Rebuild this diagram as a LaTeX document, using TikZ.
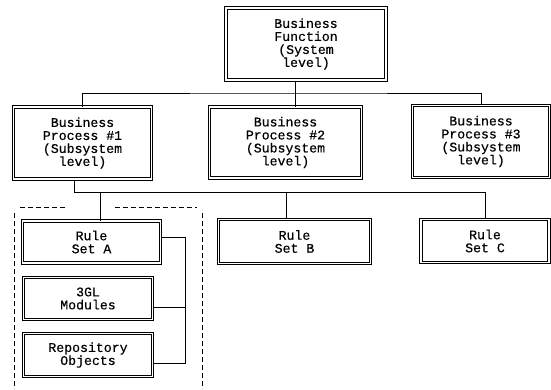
\documentclass[tikz,border=0pt]{standalone}
\usepackage{fontspec}
\setmonofont{Liberation Mono}[FakeBold=0.4]
\usetikzlibrary{positioning}
\tikzset{block/.style={draw, double, double distance=1.5pt, line width=1pt, align=center, inner sep=1pt,
                       font=\ttfamily\fontsize{13.2}{13}\selectfont},
         link/.style={line width=0.8pt},
         group/.style={line width=0.8pt, dash pattern=on 5pt off 3pt},
        }

\begin{document}
\begin{tikzpicture}[x=1pt,y=-1pt]
        \useasboundingbox (0,0) rectangle (551,389);
        \node[block, minimum width=160, minimum height=72](bf)at(306,44){Business\\Function\\(System\\level)};
        \node[block, minimum width=138, minimum height=72](bp1)at(82.5,143){Business\\Process \#1\\(Subsystem\\level)};
        \node[block, minimum width=152, minimum height=71](bp2)at(285.5,142.5){Business\\Process \#2\\(Subsystem\\level)};
        \node[block, minimum width=137, minimum height=72](bp3)at(481,141.5){Business\\Process \#3\\(Subsystem\\level)};
        \coordinate (j1) at (295,93);
        \draw[link](j1 |- bf.south) -- (j1 |- bp2.north);
        \draw[link](bp1.north) |- (j1) -| (bp3.north);

        \node[block, minimum width=138, minimum height=42](rsa)at(91.5,242){Rule\\Set A};
        \node[block, minimum width=152, minimum height=44](rsb)at(294.5,241.5){Rule\\Set B};
        \node[block, minimum width=128, minimum height=43](rsc)at(485,241){Rule\\Set C};
        \coordinate (j2) at (74,192);
        \coordinate (ta) at (100,192);
        \coordinate (tb) at (286,192);
        \draw[link](j2 |- bp1.south) -- (j2) -| (rsc.north);
        \draw[link](ta) -- (ta |- rsa.north);
        \draw[link](tb) -- (tb |- rsb.north);

        \node[block, minimum width=129, minimum height=42](gl)at(88,298.5){3GL\\Modules};
        \node[block, minimum width=129, minimum height=43](ro)at(88,355){Repository\\Objects};
        \coordinate (bk) at (185,237);
        \draw[link]([yshift=5pt]rsa.east) -- (bk) |- ([yshift=-8pt]ro.east);
        \draw[link]([yshift=-8.5pt]gl.east) -- ([yshift=-8.5pt]gl.east -| bk);

        \draw[group](20,207) -- (67,207);
        \draw[group](115,207) -- (197,207);
        \draw[group](14,213) -- (14,389);
        \draw[group](202,213) -- (202,389);
    \end{tikzpicture}
\end{document}
